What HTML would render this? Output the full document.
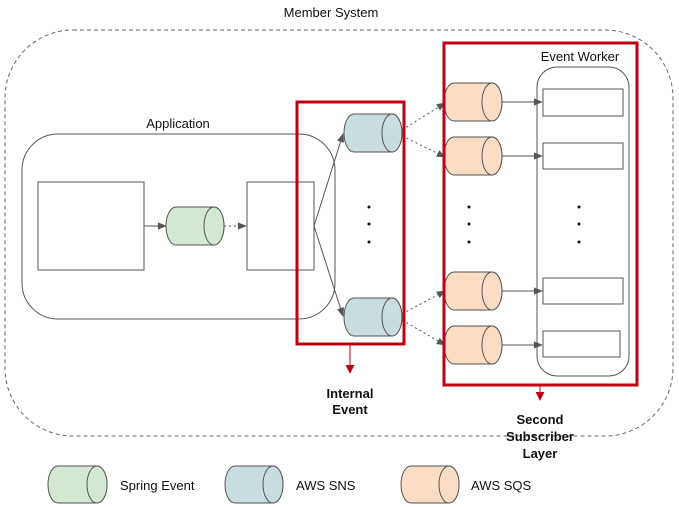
<!DOCTYPE html>
<html><head><meta charset="utf-8"><style>
html,body{margin:0;padding:0;background:#fff;}
svg{display:block;font-family:"Liberation Sans",Arial,sans-serif;}
</style></head><body>
<svg width="679" height="507" viewBox="0 0 679 507" xmlns="http://www.w3.org/2000/svg">
<defs>
<marker id="ah" viewBox="0 0 10 10" refX="9" refY="5" markerUnits="userSpaceOnUse" markerWidth="10" markerHeight="9" orient="auto"><path d="M0,1 L10,5 L0,9 z" fill="#555"/></marker>
<marker id="rh" viewBox="0 0 10 10" refX="9" refY="5" markerUnits="userSpaceOnUse" markerWidth="9" markerHeight="9" orient="auto"><path d="M0,0 L10,5 L0,10 z" fill="#c00010"/></marker>
</defs>
<rect x="5" y="30" width="668" height="406" rx="68" fill="none" stroke="#666" stroke-dasharray="4,3"/>
<text x="331" y="17" font-size="13" text-anchor="middle" fill="#111">Member System</text>

<rect x="22" y="134" width="313" height="185" rx="36" fill="none" stroke="#555"/>
<text x="178" y="128" font-size="13" text-anchor="middle" fill="#111">Application</text>
<rect x="38" y="182" width="106" height="88" fill="#fff" stroke="#555"/>
<rect x="247" y="182" width="67" height="88" fill="#fff" stroke="#555"/>
<line x1="144" y1="226" x2="166" y2="226" stroke="#555" marker-end="url(#ah)"/>
<line x1="224" y1="226" x2="246" y2="226" stroke="#555" stroke-dasharray="2,3" marker-end="url(#ah)"/>

<g id="cyls" stroke="#555" stroke-width="1">
<path d="M176,207 H214 A10,19 0 0 1 214,245 H176 A10,19 0 0 1 176,207 Z" fill="#d5e8d4"/>
<ellipse cx="214" cy="226" rx="10" ry="19" fill="#d5e8d4"/>
<path d="M354,114 H392 A10,19 0 0 1 392,152 H354 A10,19 0 0 1 354,114 Z" fill="#c9dcdf"/>
<ellipse cx="392" cy="133" rx="10" ry="19" fill="#c9dcdf"/>
<path d="M354,298 H392 A10,19 0 0 1 392,336 H354 A10,19 0 0 1 354,298 Z" fill="#c9dcdf"/>
<ellipse cx="392" cy="317" rx="10" ry="19" fill="#c9dcdf"/>
<path d="M454,83 H492 A10,19 0 0 1 492,121 H454 A10,19 0 0 1 454,83 Z" fill="#fcdcc4"/>
<ellipse cx="492" cy="102" rx="10" ry="19" fill="#fcdcc4"/>
<path d="M454,137 H492 A10,19 0 0 1 492,175 H454 A10,19 0 0 1 454,137 Z" fill="#fcdcc4"/>
<ellipse cx="492" cy="156" rx="10" ry="19" fill="#fcdcc4"/>
<path d="M454,272 H492 A10,19 0 0 1 492,310 H454 A10,19 0 0 1 454,272 Z" fill="#fcdcc4"/>
<ellipse cx="492" cy="291" rx="10" ry="19" fill="#fcdcc4"/>
<path d="M454,326 H492 A10,19 0 0 1 492,364 H454 A10,19 0 0 1 454,326 Z" fill="#fcdcc4"/>
<ellipse cx="492" cy="345" rx="10" ry="19" fill="#fcdcc4"/>
<path d="M58,466 H97 A10,18.5 0 0 1 97,503 H58 A10,18.5 0 0 1 58,466 Z" fill="#d5e8d4"/>
<ellipse cx="97" cy="484.5" rx="10" ry="18.5" fill="#d5e8d4"/>
<path d="M235,466 H273 A10,18.5 0 0 1 273,503 H235 A10,18.5 0 0 1 235,466 Z" fill="#c9dcdf"/>
<ellipse cx="273" cy="484.5" rx="10" ry="18.5" fill="#c9dcdf"/>
<path d="M411,466 H449 A10,18.5 0 0 1 449,503 H411 A10,18.5 0 0 1 411,466 Z" fill="#fcdcc4"/>
<ellipse cx="449" cy="484.5" rx="10" ry="18.5" fill="#fcdcc4"/>
</g>

<line x1="314" y1="226" x2="343" y2="134" stroke="#555" marker-end="url(#ah)"/>
<line x1="314" y1="226" x2="343" y2="316" stroke="#555" marker-end="url(#ah)"/>
<g fill="#111"><circle cx="369" cy="207" r="1.5"/><circle cx="369" cy="224" r="1.5"/><circle cx="369" cy="242" r="1.5"/>
<circle cx="469" cy="207" r="1.5"/><circle cx="469" cy="224" r="1.5"/><circle cx="469" cy="242" r="1.5"/>
<circle cx="579" cy="207" r="1.5"/><circle cx="579" cy="224" r="1.5"/><circle cx="579" cy="242" r="1.5"/></g>

<g stroke="#555" stroke-dasharray="2,3">
<line x1="402" y1="130" x2="445" y2="103" marker-end="url(#ah)"/>
<line x1="402" y1="136" x2="445" y2="157" marker-end="url(#ah)"/>
<line x1="402" y1="314" x2="445" y2="291" marker-end="url(#ah)"/>
<line x1="402" y1="320" x2="445" y2="345" marker-end="url(#ah)"/>
</g>

<rect x="537" y="67" width="92" height="309" rx="20" fill="none" stroke="#555"/>
<text x="580" y="61" font-size="13" text-anchor="middle" fill="#111">Event Worker</text>
<g fill="#fff" stroke="#555">
<rect x="543" y="89" width="80" height="27"/>
<rect x="543" y="143" width="80" height="26"/>
<rect x="543" y="278" width="80" height="26"/>
<rect x="543" y="331" width="77" height="26"/>
</g>
<g stroke="#555">
<line x1="502" y1="102" x2="542" y2="102" marker-end="url(#ah)"/>
<line x1="502" y1="156" x2="542" y2="156" marker-end="url(#ah)"/>
<line x1="502" y1="291" x2="542" y2="291" marker-end="url(#ah)"/>
<line x1="502" y1="345" x2="542" y2="345" marker-end="url(#ah)"/>
</g>

<rect x="297" y="102" width="107" height="242" fill="none" stroke="#c00010" stroke-width="3"/>
<rect x="444" y="43" width="193" height="342" fill="none" stroke="#c00010" stroke-width="3"/>
<line x1="350" y1="344" x2="350" y2="373" stroke="#c00010" marker-end="url(#rh)"/>
<line x1="540" y1="385" x2="540" y2="400" stroke="#c00010" marker-end="url(#rh)"/>

<g font-size="13" font-weight="bold" text-anchor="middle" fill="#111">
<text x="350" y="398">Internal</text><text x="350" y="414">Event</text>
<text x="540" y="424">Second</text><text x="540" y="441">Subscriber</text><text x="540" y="458">Layer</text>
</g>
<g font-size="13" fill="#111">
<text x="120" y="490">Spring Event</text>
<text x="296" y="490">AWS SNS</text>
<text x="471" y="490">AWS SQS</text>
</g>
</svg>
</body></html>
